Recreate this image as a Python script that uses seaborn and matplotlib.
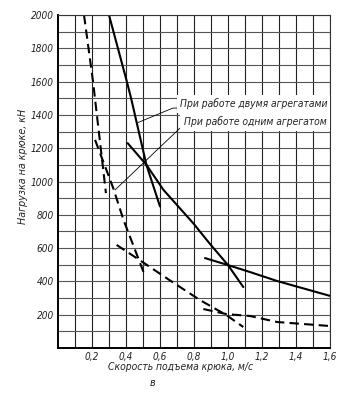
import numpy as np
import pandas as pd
import matplotlib
matplotlib.use("Agg")
import matplotlib.pyplot as plt
from matplotlib import font_manager as fm
import seaborn as sns

# ---- data ----
# solid curves (two units)
s1_x = [0.30, 0.405, 0.43, 0.52, 0.60]
s1_y = [2000, 1600, 1500, 1100, 850]
s2_x = [0.41, 0.52, 0.62, 0.795, 0.89, 1.00, 1.09]
s2_y = [1230, 1100, 950, 750, 630, 498, 366]
s3_x = [0.865, 1.00, 1.13, 1.29, 1.60]
s3_y = [540, 498, 456, 402, 313]
# dashed curves (one unit)
d1_x = [0.153, 0.206, 0.282]
d1_y = [2000, 1600, 930]
d2_x = [0.218, 0.325, 0.385, 0.51]
d2_y = [1250, 960, 770, 438]
d3_x = [0.345, 0.48, 0.66, 0.835, 0.99, 1.09]
d3_y = [619, 528, 405, 288, 198, 126]
d4_x = [0.855, 0.99, 1.13, 1.29, 1.60]
d4_y = [234, 204, 192, 156, 132]

x_ticks = [0.2, 0.4, 0.6, 0.8, 1.0, 1.2, 1.4, 1.6]
x_tick_labels = ["0,2", "0,4", "0,6", "0,8", "1,0", "1,2", "1,4", "1,6"]
y_ticks = [200, 400, 600, 800, 1000, 1200, 1400, 1600, 1800, 2000]
y_tick_labels = [str(v) for v in y_ticks]

label_two = "При работе двумя агрегатами"
label_one = "При работе одним агрегатом"
x_label = "Скорость подъема крюка, м/с"
y_label = "Нагрузка на крюке, кН"
caption = "в"

sns.set_theme(style="white")
names = {f.name for f in fm.fontManager.ttflist}
fams = []
for cand in ["Liberation Sans Narrow", "DejaVu Sans Condensed"]:
    if cand in names:
        fams.append(cand)
fams.append("DejaVu Sans")
plt.rcParams["font.family"] = fams
plt.rcParams["font.style"] = "italic"
plt.rcParams["font.stretch"] = "condensed"
narrow = fams[0] != "DejaVu Sans"
scale = 1.0 if narrow else 0.82

fig = plt.figure(figsize=(3.48, 3.93), dpi=100)
ax = fig.add_axes([58/348, 1-348/393, 272/348, 333/393])

def draw(xs, ys, dashed):
    df = pd.DataFrame({"x": xs, "y": ys})
    sns.lineplot(data=df, x="x", y="y", ax=ax, color="black",
                 lw=1.5, sort=False, estimator=None)
    if dashed:
        ax.lines[-1].set_dashes((4.5, 2.5))

for xs, ys in [(s1_x, s1_y), (s2_x, s2_y), (s3_x, s3_y)]:
    draw(xs, ys, False)
for xs, ys in [(d1_x, d1_y), (d2_x, d2_y), (d3_x, d3_y), (d4_x, d4_y)]:
    draw(xs, ys, True)

ax.set_xlim(0, 1.6)
ax.set_ylim(0, 2000)
ax.set_xticks(x_ticks)
ax.set_xticklabels(x_tick_labels)
ax.set_xticks(np.arange(0.1, 1.6, 0.2), minor=True)
ax.set_yticks(y_ticks)
ax.set_yticklabels(y_tick_labels)
ax.set_yticks(np.arange(100, 2000, 200), minor=True)
ax.grid(True, which="both", axis="x", color="#222222", lw=0.8)
ax.grid(True, which="both", axis="y", color="#555555", lw=0.8)
ax.set_axisbelow(True)
ax.tick_params(which="both", length=0, labelsize=8.8 * scale, pad=3,
               colors="#222222")
for sp in ["top", "right"]:
    ax.spines[sp].set_color("#333333")
    ax.spines[sp].set_linewidth(0.8)
for sp in ["left", "bottom"]:
    ax.spines[sp].set_color("black")
    ax.spines[sp].set_linewidth(1.4)

ax.set_xlabel(x_label, fontsize=9.0 * scale, color="#222222")
ax.xaxis.set_label_coords((181 - 58) / 272, -(367 - 348) / 333)
ax.xaxis.label.set_va("center")
ax.set_ylabel(y_label, fontsize=9.3 * scale, color="#222222")
ax.yaxis.set_label_coords(-(58 - 23) / 272, (348 - 166) / 333)
ax.yaxis.label.set_va("center")
fig.text(153/348, 1-383/393, caption, fontsize=9.5 * scale, ha="center",
         va="center", color="#222222")

# annotations with white background covering the grid
ax.text(0.72, 1468, label_two, fontsize=9 * scale, ha="left", va="center",
        color="#222222", clip_on=True,
        bbox=dict(facecolor="white", edgecolor="none", pad=2.5))
ax.text(0.74, 1358, label_one, fontsize=9 * scale, ha="left", va="center",
        color="#222222", clip_on=True,
        bbox=dict(facecolor="white", edgecolor="none", pad=2.5))
ax.plot([0.47, 0.676, 0.70], [1354, 1441, 1441], color="black", lw=0.6)
ax.plot([0.335, 0.718], [949, 1321], color="black", lw=0.6)

fig.savefig("out.png", dpi=100)
